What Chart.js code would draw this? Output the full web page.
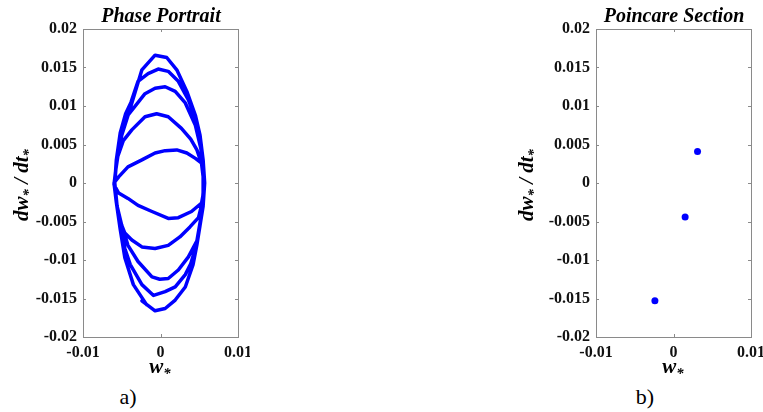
<!DOCTYPE html>
<html>
<head>
<meta charset="utf-8">
<script src="https://cdn.jsdelivr.net/npm/chart.js@4.4.1/dist/chart.umd.min.js"></script>
<style>
  html, body { margin:0; padding:0; background:#fff; }
  body { width:763px; height:412px; position:relative; overflow:hidden; font-family:'Liberation Serif','Times New Roman',serif; }
  canvas { position:absolute; top:0; }
  .t { position:absolute; width:200px; text-align:center; color:#000; white-space:nowrap; }
  .title { font-weight:bold; font-style:italic; font-size:20px; line-height:22px; }
  .axl { font-weight:bold; font-style:italic; font-size:21px; line-height:24px; }
  .sub { font-size:0.7em; position:relative; top:0.35em; }
  .cap { font-size:22px; line-height:24px; }
</style>
</head>
<body>
<canvas id="c1" width="250" height="362" style="left:0px"></canvas>
<canvas id="c2" width="250" height="362" style="left:513px"></canvas>

<div class="t title" style="left:61px; top:4px;">Phase Portrait</div>
<div class="t title" style="left:574px; top:4px;">Poincare Section</div>

<div class="t axl" style="left:-78px; top:172px; transform:rotate(-90deg);">dw<span class="sub">*</span> / dt<span class="sub">*</span></div>
<div class="t axl" style="left:427px; top:172px; transform:rotate(-90deg);">dw<span class="sub">*</span> / dt<span class="sub">*</span></div>

<div class="t axl" style="left:60px; top:354px;">w<span class="sub">*</span></div>
<div class="t axl" style="left:573px; top:354px;">w<span class="sub">*</span></div>

<div class="t cap" style="left:28px; top:385px;">a)</div>
<div class="t cap" style="left:545px; top:385px;">b)</div>

<script>
// ---- data ----
const xTickValues = [-0.01, 0, 0.01];
const xTickLabels = ["-0.01", "0", "0.01"];
const yTickValues = [-0.02, -0.015, -0.01, -0.005, 0, 0.005, 0.01, 0.015, 0.02];
const yTickLabels = ["-0.02", "-0.015", "-0.01", "-0.005", "0", "0.005", "0.01", "0.015", "0.02"];

// phase portrait trajectory (w, dw/dt)
const portraitW = [
  -0.0018, -0.0035, -0.0046, -0.0052, -0.0057, -0.0060,
  -0.0054, -0.0042, -0.0024, -0.0007, 0.0006, 0.0021, 0.0034, 0.0045, 0.0053,
  0.0056, 0.0055, 0.0053,
  0.0040, 0.0023, 0.0010, -0.0011, -0.0029, -0.0042, -0.0054,
  -0.0060, -0.0058, -0.0055, -0.0048,
  -0.0037, -0.0020, -0.0005, 0.0010, 0.0027, 0.0039, 0.0047, 0.0053,
  0.0056, 0.0054, 0.0049,
  0.0038, 0.0025, 0.0010, -0.0007, -0.0024, -0.0037, -0.0046,
  -0.0052, -0.0057, -0.0059, -0.0057, -0.0052,
  -0.0042, -0.0020, -0.0007, 0.0006, 0.0019, 0.0032, 0.0045, 0.0052,
  0.0056, 0.0056, 0.0053, 0.0047,
  0.0036, 0.0023, 0.0010, -0.0001, -0.0011, -0.0029, -0.0042,
  -0.0050, -0.0056, -0.0059, -0.0057, -0.0052, -0.0045, -0.0038,
  -0.0029, -0.0016, -0.0003, 0.0010, 0.0023, 0.0036, 0.0047, 0.0053,
  0.0056, 0.0055, 0.0051, 0.0045, 0.0039,
  0.0032, 0.0019, 0.0006, -0.0009, -0.0024, -0.0039,
  -0.0046, -0.0051, -0.0056, -0.0059, -0.0057, -0.0050, -0.0039,
  -0.0024, -0.0007, 0.0008, 0.0021, 0.0034, 0.0045, 0.0051,
  0.0055, 0.0057, 0.0055, 0.0051, 0.0047, 0.0042,
  0.0032, 0.0019, 0.0006, -0.0007, -0.0024
];
const portraitDW = [
  -0.0158, -0.0132, -0.0097, -0.0060, -0.0025, 0.0000,
  0.0008, 0.0021, 0.0030, 0.0039, 0.0042, 0.0043, 0.0039, 0.0032, 0.0026,
  0.0005, -0.0015, -0.0026,
  -0.0037, -0.0045, -0.0046, -0.0037, -0.0029, -0.0020, -0.0013,
  -0.0002, 0.0015, 0.0035, 0.0055,
  0.0069, 0.0086, 0.0090, 0.0086, 0.0071, 0.0057, 0.0043, 0.0025,
  0.0000, -0.0025, -0.0045,
  -0.0057, -0.0070, -0.0081, -0.0085, -0.0083, -0.0074, -0.0065,
  -0.0050, -0.0025, 0.0000, 0.0025, 0.0058,
  0.0088, 0.0116, 0.0123, 0.0125, 0.0119, 0.0104, 0.0075, 0.0045,
  0.0015, -0.0015, -0.0040, -0.0075,
  -0.0096, -0.0113, -0.0124, -0.0125, -0.0122, -0.0102, -0.0081,
  -0.0055, -0.0030, 0.0000, 0.0030, 0.0065, 0.0090, 0.0105,
  0.0132, 0.0142, 0.0148, 0.0145, 0.0132, 0.0108, 0.0078, 0.0045,
  0.0010, -0.0025, -0.0055, -0.0085, -0.0105,
  -0.0119, -0.0135, -0.0141, -0.0146, -0.0132, -0.0106,
  -0.0085, -0.0060, -0.0030, 0.0000, 0.0030, 0.0062, 0.0097,
  0.0147, 0.0166, 0.0163, 0.0147, 0.0119, 0.0088, 0.0062,
  0.0030, 0.0000, -0.0030, -0.0055, -0.0080, -0.0106,
  -0.0135, -0.0152, -0.0163, -0.0166, -0.0153
];

// Poincare section points
const poincareW = [0.0031, 0.0015, -0.0024];
const poincareDW = [0.0041, -0.0044, -0.0153];

// ---- rendering ----
const BLUE = '#0000ff';
const TICKFONT = { family: "'Liberation Serif','Times New Roman',serif", size: 16, weight: 'bold' };

const boxPlugin = {
  id: 'matlabBox',
  afterDraw(chart) {
    const { ctx, chartArea: a, scales } = chart;
    ctx.save();
    ctx.strokeStyle = '#8a8a8a';
    ctx.lineWidth = 1;
    ctx.strokeRect(Math.round(a.left) + 0.5, Math.round(a.top) + 0.5,
                   Math.round(a.right - a.left), Math.round(a.bottom - a.top));
    const tl = 3;
    ctx.beginPath();
    scales.x.ticks.forEach(t => {
      const px = Math.round(scales.x.getPixelForValue(t.value)) + 0.5;
      ctx.moveTo(px, a.top); ctx.lineTo(px, a.top + tl);
      ctx.moveTo(px, a.bottom); ctx.lineTo(px, a.bottom - tl);
    });
    scales.y.ticks.forEach(t => {
      const py = Math.round(scales.y.getPixelForValue(t.value)) + 0.5;
      ctx.moveTo(a.left, py); ctx.lineTo(a.left + tl, py);
      ctx.moveTo(a.right, py); ctx.lineTo(a.right - tl, py);
    });
    ctx.stroke();
    ctx.restore();
  }
};

function makeScales() {
  return {
    x: {
      type: 'linear', min: -0.01, max: 0.01,
      afterBuildTicks: s => { s.ticks = xTickValues.map(v => ({ value: v })); },
      afterFit: s => { s.height = 25; s.paddingLeft = 0; s.paddingRight = 0; },
      grid: { display: false, drawTicks: false },
      border: { display: false },
      ticks: { autoSkip: false, maxRotation: 0, padding: 6, color: '#111', font: TICKFONT,
               callback: (v, i) => xTickLabels[i] }
    },
    y: {
      type: 'linear', min: -0.02, max: 0.02,
      afterBuildTicks: s => { s.ticks = yTickValues.map(v => ({ value: v })); },
      afterFit: s => { s.width = 83; s.paddingTop = 0; s.paddingBottom = 0; },
      grid: { display: false, drawTicks: false },
      border: { display: false },
      ticks: { autoSkip: false, padding: 6, color: '#111', font: TICKFONT,
               callback: (v, i) => yTickLabels[i] }
    }
  };
}

const common = {
  responsive: false,
  animation: false,
  devicePixelRatio: 1,
  layout: { padding: { top: 29, right: 12, bottom: 0, left: 0 } },
  plugins: { legend: { display: false }, tooltip: { enabled: false }, title: { display: false } },
};

new Chart(document.getElementById('c1'), {
  type: 'scatter',
  data: {
    datasets: [{
      data: portraitW.map((w, i) => ({ x: w, y: portraitDW[i] })),
      showLine: true, borderColor: BLUE, borderWidth: 3.5, pointRadius: 0,
      tension: 0, borderJoinStyle: 'round', borderCapStyle: 'round', fill: false
    }]
  },
  options: Object.assign({}, common, { scales: makeScales() }),
  plugins: [boxPlugin]
});

new Chart(document.getElementById('c2'), {
  type: 'scatter',
  data: {
    datasets: [{
      data: poincareW.map((w, i) => ({ x: w, y: poincareDW[i] })),
      showLine: false, pointRadius: 3.5, pointBackgroundColor: BLUE, pointBorderWidth: 0,
      borderColor: BLUE
    }]
  },
  options: Object.assign({}, common, { scales: makeScales() }),
  plugins: [boxPlugin]
});
</script>
</body>
</html>
